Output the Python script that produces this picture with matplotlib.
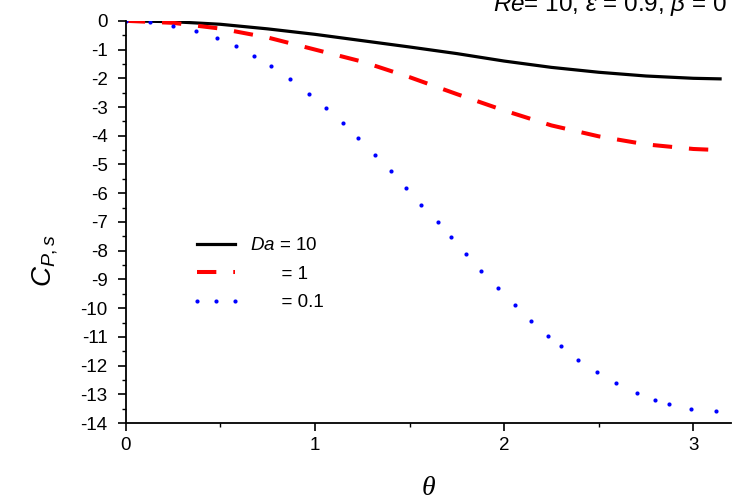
import matplotlib
matplotlib.use("Agg")
import matplotlib.pyplot as plt

plt.rcParams['font.family'] = ['Liberation Sans', 'DejaVu Sans']
plt.rcParams['mathtext.fontset'] = 'custom'
plt.rcParams['mathtext.rm'] = 'Liberation Sans'
plt.rcParams['mathtext.it'] = 'Liberation Sans:italic'
plt.rcParams['axes.unicode_minus'] = False

# values
theta = [0, 0.25, 0.5, 0.75, 1.0, 1.25, 1.5, 1.75, 2.0, 2.25, 2.5, 2.75, 3.0, 3.1416]
cp_da10 = [0, -0.03, -0.12, -0.28, -0.47, -0.69, -0.91, -1.14, -1.40, -1.62, -1.79, -1.92, -2.00, -2.02]
cp_da1 = [0, -0.07, -0.27, -0.58, -1.0, -1.42, -1.96, -2.55, -3.12, -3.64, -4.02, -4.30, -4.46, -4.50]

theta_01 = [0, 0.13, 0.25, 0.37, 0.48, 0.58, 0.68, 0.77, 0.87, 0.97, 1.06, 1.15, 1.23, 1.32,
            1.40, 1.48, 1.56, 1.65, 1.72, 1.80, 1.88, 1.97, 2.06, 2.14, 2.23, 2.30, 2.39,
            2.49, 2.59, 2.70, 2.80, 2.87, 2.99, 3.12]
cp_da01 = [0, -0.03, -0.17, -0.35, -0.6, -0.87, -1.22, -1.58, -2.03, -2.54, -3.04, -3.57,
           -4.08, -4.67, -5.24, -5.82, -6.42, -7.0, -7.54, -8.13, -8.72, -9.31, -9.9,
           -10.43, -10.96, -11.3, -11.8, -12.22, -12.6, -12.94, -13.2, -13.35, -13.5, -13.58]

labels = [r"$Da$ = 10", "      = 1", "      = 0.1"]

fig = plt.figure(figsize=(7.4, 4.96), dpi=100)
ax = fig.add_axes([0.170, 0.147, 0.818, 0.811])

ax.plot(theta, cp_da10, color='black', lw=2.3, label=labels[0])
ax.plot(theta, cp_da1, color='red', lw=2.9, dashes=(4.8, 4.2), label=labels[1])
ax.plot(theta_01, cp_da01, color='blue', ls='none', marker='o', ms=3.0, mew=0, label=labels[2])

ax.set_xlim(0, 3.2)
ax.set_ylim(-14, 0)
ax.set_xticks([0, 1, 2, 3])
ax.set_xticks([0.5, 1.5, 2.5], minor=True)
ax.set_yticks(range(-14, 1))
ax.set_yticks([v + 0.5 for v in range(-14, 0)], minor=True)
ax.set_yticklabels([str(v) for v in range(-14, 1)])

for s in ['top', 'right']:
    ax.spines[s].set_visible(False)
for s in ['left', 'bottom']:
    ax.spines[s].set_linewidth(1.3)
ax.tick_params(which='major', direction='out', length=6, width=1.2, labelsize=13.5)
ax.tick_params(which='minor', direction='out', length=3, width=1.0)
ax.tick_params(axis='x', pad=4)
ax.tick_params(axis='y', pad=7)

ax.set_ylabel(r"$C_{P,s}$", fontsize=20)
ax.yaxis.set_label_coords(-0.108, 0.405)
ax.set_xlabel("θ", fontsize=20, family='Liberation Serif', style='italic', labelpad=16)

fig.text(0.982, 0.978, r"$Re$= 10, $\varepsilon$ = 0.9, $\beta$ = 0", ha='right', va='baseline', fontsize=17.5)

ax.legend(loc='center left', bbox_to_anchor=(0.109, 0.37), frameon=False, fontsize=13.5,
          handlelength=2.6, handletextpad=0.5, labelspacing=0.6, borderpad=0, borderaxespad=0,
          numpoints=3)

fig.savefig("out.png", dpi=100)
